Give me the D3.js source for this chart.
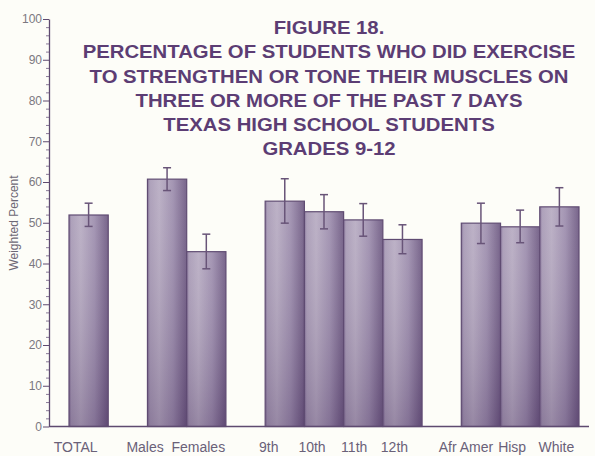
<!DOCTYPE html>
<html>
<head>
<meta charset="utf-8">
<script src="https://cdn.jsdelivr.net/npm/d3@7"></script>
<style>
  body { margin: 0; background: #fdfdf8; }
  svg { display: block; font-family: "Liberation Sans", Arial, sans-serif; }
</style>
</head>
<body>
<div id="chart"></div>
<script>
// Data
var groups = [["TOTAL"], ["Males", "Females"], ["9th", "10th", "11th", "12th"], ["Afr Amer", "Hisp", "White"]];
var categories = ["TOTAL", "Males", "Females", "9th", "10th", "11th", "12th", "Afr Amer", "Hisp", "White"];
var values = [51.9, 60.7, 42.9, 55.3, 52.7, 50.7, 45.9, 49.9, 49.0, 53.9];
var errLow = [49.1, 57.9, 38.7, 49.9, 48.5, 46.7, 42.4, 44.9, 45.1, 49.2];
var errHigh = [54.8, 63.5, 47.2, 60.8, 56.9, 54.7, 49.5, 54.8, 53.1, 58.6];
var yTicks = [0, 10, 20, 30, 40, 50, 60, 70, 80, 90, 100];
var titleLines = [
    "FIGURE 18.",
    "PERCENTAGE OF STUDENTS WHO DID EXERCISE",
    "TO STRENGTHEN OR TONE THEIR MUSCLES ON",
    "THREE OR MORE OF THE PAST 7 DAYS",
    "TEXAS HIGH SCHOOL STUDENTS",
    "GRADES 9-12"
];
var yLabel = "Weighted Percent";

var svgWidth = 595;
var svgHeight = 456;

var svg = d3.select("#chart")
    .append("svg")
    .attr("width", svgWidth)
    .attr("height", svgHeight);

// Band domain with an empty slot between groups
var slots = [];
groups.forEach(function(g, i) {
    if (i > 0) slots.push("gap" + i);
    g.forEach(function(c) { slots.push(c); });
});

var axisX = 49;
var xScale = d3.scaleBand()
    .domain(slots)
    .range([69, 579])
    .padding(0);

var yScale = d3.scaleLinear()
    .domain([0, 100])
    .range([426.5, 19]);

// Gradients for the shaded bars
var defs = svg.append("defs");
var grad = defs.append("linearGradient")
    .attr("id", "barGrad")
    .attr("x1", "0").attr("x2", "1").attr("y1", "0").attr("y2", "0");
[["0%", "#7c6890"], ["6%", "#a597b3"], ["30%", "#b5a9c0"], ["65%", "#9a8aab"], ["100%", "#69547e"]]
    .forEach(function(s) { grad.append("stop").attr("offset", s[0]).attr("stop-color", s[1]); });

var shade = defs.append("linearGradient")
    .attr("id", "barShade")
    .attr("x1", "0").attr("x2", "0").attr("y1", "0").attr("y2", "1");
shade.append("stop").attr("offset", "0%").attr("stop-color", "#ffffff").attr("stop-opacity", 0.1);
shade.append("stop").attr("offset", "100%").attr("stop-color", "#3e2652").attr("stop-opacity", 0.25);

// Title
svg.append("g")
    .attr("transform", "translate(329,0) scale(1.07,1)")
    .selectAll("text")
    .data(titleLines)
    .enter()
    .append("text")
    .attr("x", 0)
    .attr("y", function(d, i) { return 34 + i * 24.3; })
    .attr("text-anchor", "middle")
    .attr("font-size", "19px")
    .attr("font-weight", "bold")
    .attr("fill", "#5c3d74")
    .text(function(d) { return d; });

// Y axis: minor ticks then major ticks
var minorTicks = d3.range(0, 101, 2).filter(function(v) { return v % 10 !== 0; });
svg.append("g")
    .attr("transform", "translate(" + axisX + ",0)")
    .call(d3.axisLeft(yScale).tickValues(minorTicks).tickSize(3).tickSizeOuter(0).tickFormat(""))
    .call(function(g) {
        g.select(".domain").remove();
        g.selectAll("line").attr("stroke", "#8a7a98");
    });

var yAxis = svg.append("g")
    .attr("transform", "translate(" + axisX + ",0)")
    .call(d3.axisLeft(yScale).tickValues(yTicks).tickSize(6).tickSizeOuter(0).tickPadding(1));
yAxis.select(".domain").attr("stroke", "#5e4a70").attr("stroke-width", 1.3);
yAxis.selectAll("line").attr("stroke", "#5e4a70");
yAxis.selectAll("text")
    .attr("font-size", "12px")
    .attr("fill", "#7b7880")
    .style("font-family", "Liberation Sans, Arial, sans-serif");

svg.append("text")
    .attr("transform", "translate(18," + 223 + ") rotate(-90)")
    .attr("text-anchor", "middle")
    .attr("font-size", "12px")
    .attr("fill", "#6d6875")
    .text(yLabel);

// Bars
var data = categories.map(function(c, i) {
    return { cat: c, value: values[i], lo: errLow[i], hi: errHigh[i] };
});

var bars = svg.append("g");
bars.selectAll("rect.bar")
    .data(data)
    .enter()
    .append("rect")
    .attr("class", "bar")
    .attr("x", function(d) { return xScale(d.cat); })
    .attr("y", function(d) { return yScale(d.value); })
    .attr("width", xScale.bandwidth())
    .attr("height", function(d) { return yScale(0) - yScale(d.value); })
    .attr("fill", "url(#barGrad)")
    .attr("stroke", "#5f4b72")
    .attr("stroke-width", 1.2);

bars.selectAll("rect.shade")
    .data(data)
    .enter()
    .append("rect")
    .attr("class", "shade")
    .attr("x", function(d) { return xScale(d.cat) + 0.6; })
    .attr("y", function(d) { return yScale(d.value) + 0.6; })
    .attr("width", xScale.bandwidth() - 1.2)
    .attr("height", function(d) { return yScale(0) - yScale(d.value) - 1.2; })
    .attr("fill", "url(#barShade)");

// Error bars
var errG = svg.append("g")
    .attr("stroke", "#685478")
    .attr("stroke-width", 1.5);
var cx = function(d) { return xScale(d.cat) + xScale.bandwidth() / 2; };
errG.selectAll("line.stem")
    .data(data)
    .enter()
    .append("line")
    .attr("x1", cx).attr("x2", cx)
    .attr("y1", function(d) { return yScale(d.lo); })
    .attr("y2", function(d) { return yScale(d.hi); });
["lo", "hi"].forEach(function(k) {
    errG.selectAll("line.cap-" + k)
        .data(data)
        .enter()
        .append("line")
        .attr("x1", function(d) { return cx(d) - 4; })
        .attr("x2", function(d) { return cx(d) + 4; })
        .attr("y1", function(d) { return yScale(d[k]); })
        .attr("y2", function(d) { return yScale(d[k]); });
});

// X axis line
svg.append("line")
    .attr("x1", axisX)
    .attr("x2", xScale.range()[1] + 10)
    .attr("y1", yScale(0))
    .attr("y2", yScale(0))
    .attr("stroke", "#5e4a70")
    .attr("stroke-width", 1.5);

// Category labels, nudged like the original typesetting
var nudge = { "TOTAL": -13, "Males": -22, "Females": -8, "9th": -16, "10th": -12, "11th": -9,
              "12th": -8, "Afr Amer": -15, "Hisp": -8, "White": -3 };
svg.append("g")
    .selectAll("text")
    .data(categories)
    .enter()
    .append("text")
    .attr("x", function(d) { return xScale(d) + xScale.bandwidth() / 2 + nudge[d]; })
    .attr("y", 452)
    .attr("text-anchor", "middle")
    .attr("font-size", "14px")
    .attr("fill", "#6a6178")
    .text(function(d) { return d; });
</script>
</body>
</html>
